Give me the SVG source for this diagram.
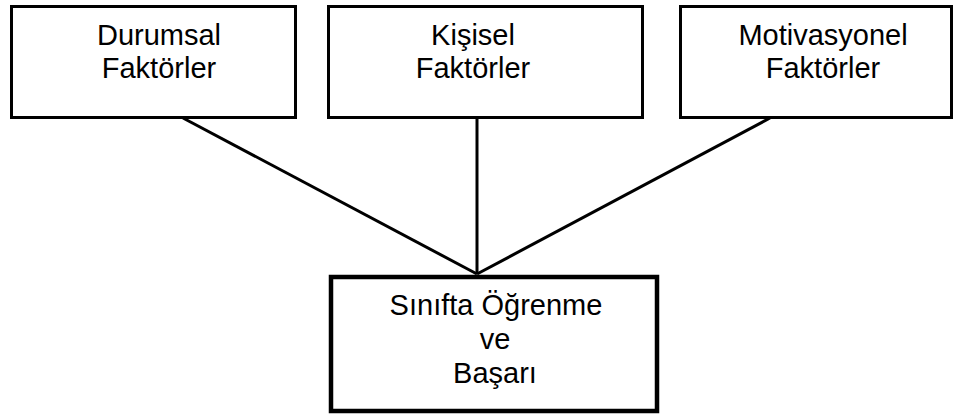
<svg xmlns="http://www.w3.org/2000/svg" width="955" height="415" viewBox="0 0 955 415">
  <style>
    .box { fill: #ffffff; stroke: #000000; stroke-width: 3; }
    .main { stroke-width: 4.5; }
    .lbl { font-family: "Liberation Sans", Arial, sans-serif; font-size: 29px; fill: #000000; text-anchor: middle; }
    .link { stroke: #000000; stroke-width: 3; fill: none; }
  </style>
  <rect width="955" height="415" fill="#ffffff"/>

  <g id="connectors">
    <line class="link" x1="183" y1="118" x2="477" y2="274"/>
    <line class="link" x1="477" y1="118" x2="477" y2="274"/>
    <line class="link" x1="770" y1="118" x2="477" y2="274"/>
  </g>

  <g id="durumsal">
    <rect class="box" x="11.5" y="6.5" width="284" height="111"/>
    <text class="lbl" x="159" y="45">Durumsal</text>
    <text class="lbl" x="159" y="78">Faktörler</text>
  </g>

  <g id="kisisel">
    <rect class="box" x="328.5" y="6.5" width="314" height="111"/>
    <text class="lbl" x="473" y="45">Kişisel</text>
    <text class="lbl" x="473" y="78">Faktörler</text>
  </g>

  <g id="motivasyonel">
    <rect class="box" x="680.5" y="6.5" width="271" height="111"/>
    <text class="lbl" x="823" y="45">Motivasyonel</text>
    <text class="lbl" x="823" y="78">Faktörler</text>
  </g>

  <g id="basari">
    <rect class="box main" x="331" y="277" width="326" height="134"/>
    <text class="lbl" x="496" y="315">Sınıfta Öğrenme</text>
    <text class="lbl" x="495" y="349">ve</text>
    <text class="lbl" x="495" y="383">Başarı</text>
  </g>
</svg>
